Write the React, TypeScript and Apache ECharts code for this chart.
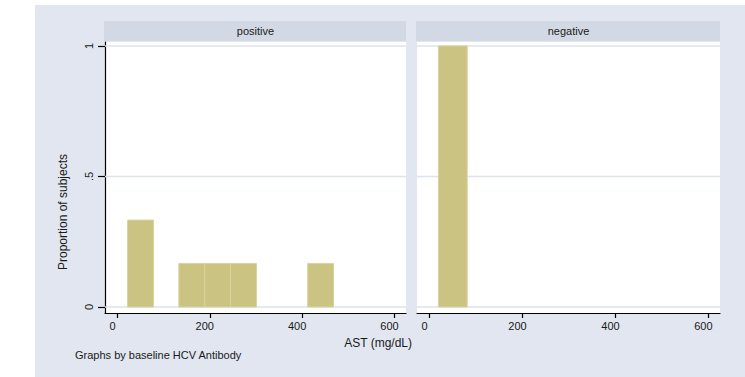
import React, { useEffect, useRef } from "react";
import * as echarts from "echarts";

// ---- data ----
const panelNames = ["positive", "negative"];
const posBinStart = [22, 133, 189, 245, 412];
const posBinEnd = [78, 189, 245, 301, 468];
const posProportion = [0.333, 0.167, 0.167, 0.167, 0.167];
const negBinStart = [19];
const negBinEnd = [81];
const negProportion = [1];
const xTicks = [0, 200, 400, 600];
const yTicks = [0, 0.5, 1];
const yTickLabels = ["0", ".5", "1"];
const xTitle = "AST (mg/dL)";
const yTitle = "Proportion of subjects";
const note = "Graphs by baseline HCV Antibody";

const X_MIN = -27;
const X_MAX = 625;
const Y_MIN = -0.023;
const Y_MAX = 1.015;

const FONT = "'Liberation Sans', Arial, sans-serif";
const BAR_FILL = "#cbc381";
const BAR_STROKE = "#d9d39c";
const GRID_COLOR = "#dce3ee";
const STRIP_COLOR = "#d3d9e4";
const TEXT = "#1a1a1a";

export default function App() {
  const ref = useRef<HTMLDivElement>(null);

  useEffect(() => {
    if (!ref.current) return;
    const chart = echarts.init(ref.current, undefined, { renderer: "svg" });

    const bins = [
      posBinStart.map((s, i) => [s, posBinEnd[i], posProportion[i]]),
      negBinStart.map((s, i) => [s, negBinEnd[i], negProportion[i]]),
    ];

    const grids = [
      { left: 105, top: 42, width: 301, height: 271 },
      { left: 417, top: 42, width: 303, height: 271 },
    ];

    const barRender = (params: any, api: any) => {
      const p0 = api.coord([api.value(0), api.value(2)]);
      const p1 = api.coord([api.value(1), 0]);
      return {
        type: "rect",
        shape: { x: p0[0], y: p0[1], width: p1[0] - p0[0], height: p1[1] - p0[1] },
        style: { fill: BAR_FILL, stroke: BAR_STROKE, lineWidth: 1 },
      };
    };

    const gridRender = (params: any, api: any) => {
      const y = api.coord([0, api.value(1)])[1];
      const cs = params.coordSys;
      return {
        type: "line",
        shape: { x1: cs.x, y1: y, x2: cs.x + cs.width, y2: y },
        style: { stroke: GRID_COLOR, lineWidth: 1.5 },
      };
    };

    const option: any = {
      animation: false,
      textStyle: { fontFamily: FONT },
      grid: grids.map((g) => ({
        ...g,
        show: true,
        backgroundColor: "#ffffff",
        borderWidth: 0,
      })),
      xAxis: grids.map((_, i) => ({
        type: "value",
        gridIndex: i,
        min: X_MIN,
        max: X_MAX,
        axisLine: { show: true, onZero: false, lineStyle: { color: "#000", width: 1.2 } },
        axisTick: {
          show: true,
          length: 5,
          customValues: xTicks,
          lineStyle: { color: "#000", width: 1.2 },
        },
        axisLabel: {
          customValues: xTicks,
          fontSize: 11,
          color: TEXT,
          margin: 7,
          padding: [0, 10, 0, 0],
          fontFamily: FONT,
        },
        splitLine: { show: false },
      })),
      yAxis: grids.map((_, i) => ({
        type: "value",
        gridIndex: i,
        min: Y_MIN,
        max: Y_MAX,
        show: i === 0,
        axisLine: { show: true, onZero: false, lineStyle: { color: "#000", width: 1.2 } },
        axisTick: {
          show: true,
          length: 7,
          customValues: yTicks,
          lineStyle: { color: "#000", width: 1.2 },
        },
        axisLabel: {
          customValues: yTicks,
          rotate: 90,
          fontSize: 11,
          color: TEXT,
          margin: 11,
          fontFamily: FONT,
          formatter: (v: number) => {
            const idx = yTicks.findIndex((t) => Math.abs(t - v) < 1e-9);
            return idx >= 0 ? yTickLabels[idx] : "";
          },
        },
        splitLine: { show: false },
      })),
      series: [
        ...grids.map((_, i) => ({
          type: "custom",
          name: "grid" + i,
          xAxisIndex: i,
          yAxisIndex: i,
          z: 1,
          silent: true,
          renderItem: gridRender,
          encode: { x: 0, y: 1 },
          data: yTicks.map((v) => [0, v]),
        })),
        ...grids.map((_, i) => ({
          type: "custom",
          name: panelNames[i],
          xAxisIndex: i,
          yAxisIndex: i,
          z: 2,
          renderItem: barRender,
          encode: { x: [0, 1], y: 2 },
          data: bins[i],
        })),
      ],
      graphic: [
        ...grids.map((g, i) => ({
          type: "rect",
          shape: { x: g.left - 1, y: 21, width: g.width + 1, height: 20 },
          style: { fill: STRIP_COLOR },
          silent: true,
        })),
        ...grids.map((g, i) => ({
          type: "text",
          x: g.left + g.width / 2,
          y: 31,
          style: {
            text: panelNames[i],
            fill: TEXT,
            font: `11px ${FONT}`,
            align: "center",
            verticalAlign: "middle",
          },
          silent: true,
        })),
        {
          type: "text",
          x: 63,
          y: 212,
          rotation: Math.PI / 2,
          style: {
            text: yTitle,
            fill: TEXT,
            font: `12px ${FONT}`,
            align: "center",
            verticalAlign: "middle",
          },
          silent: true,
        },
        {
          type: "text",
          x: 412,
          y: 343,
          style: {
            text: xTitle,
            fill: TEXT,
            font: `12px ${FONT}`,
            align: "right",
            verticalAlign: "middle",
          },
          silent: true,
        },
        {
          type: "text",
          x: 75,
          y: 355,
          style: {
            text: note,
            fill: TEXT,
            font: `11px ${FONT}`,
            align: "left",
            verticalAlign: "middle",
          },
          silent: true,
        },
      ],
    };

    chart.setOption(option);
    return () => chart.dispose();
  }, []);

  return (
    <div
      style={{
        position: "fixed",
        left: 0,
        top: 0,
        width: 745,
        height: 377,
        background: "#ffffff",
      }}
    >
      <div
        style={{
          position: "absolute",
          left: 35,
          top: 5,
          width: 710,
          height: 372,
          background: "#e1e6f0",
        }}
      />
      <div
        ref={ref}
        style={{ position: "absolute", left: 0, top: 0, width: 745, height: 377 }}
      />
    </div>
  );
}
